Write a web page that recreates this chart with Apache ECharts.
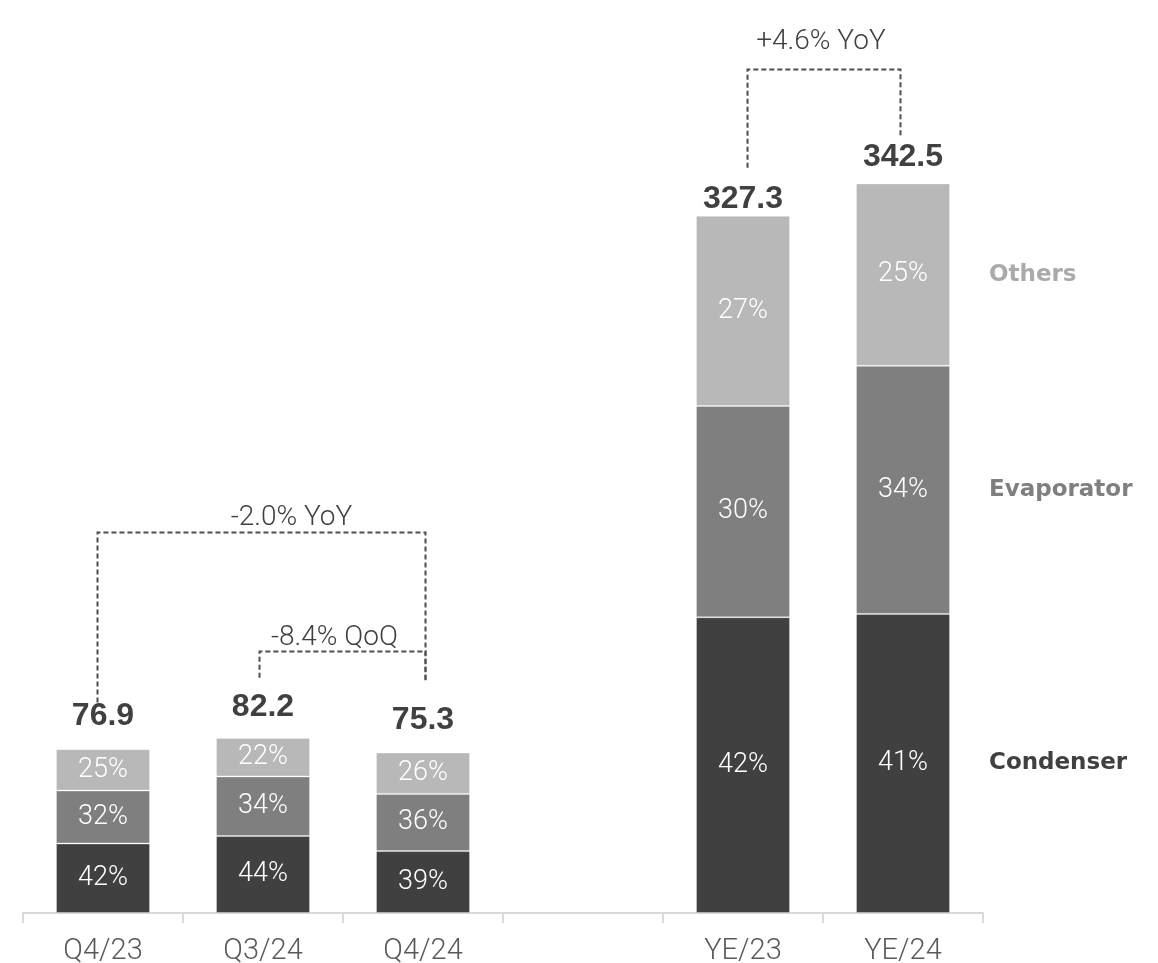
<!DOCTYPE html>
<html>
<head>
<meta charset="utf-8">
<title>Sales by product group</title>
<script src="https://cdn.jsdelivr.net/npm/echarts@6/dist/echarts.min.js"></script>
<style>
  html, body { margin: 0; padding: 0; background: #ffffff; }
  #chart { width: 1158px; height: 963px; }
</style>
</head>
<body>
<div id="chart"></div>
<script>
// Periods on the x axis; the empty slot separates quarters from full years
const categories = ['Q4/23', 'Q3/24', 'Q4/24', '', 'YE/23', 'YE/24'];
// Total sales per period
const totals = [76.9, 82.2, 75.3, null, 327.3, 342.5];
// Share of each product group in the period total (%)
const condenserPct = [42, 44, 39, null, 42, 41];
const evaporatorPct = [32, 34, 36, null, 30, 34];
const othersPct = [25, 22, 26, null, 27, 25];
// Group names shown beside the last bar
const groupNames = ['Condenser', 'Evaporator', 'Others'];
// Change annotations
const changeTexts = ['-2.0% YoY', '-8.4% QoQ', '+4.6% YoY'];

// Layout: extra lift (px) of each total label above its bar
const totalLabelLift = [16, 14, 15, 0, 0, 9];

const pctSeries = [condenserPct, evaporatorPct, othersPct];
const groupColors = ['#404040', '#7f7f7f', '#b8b8b8'];
const nameColors = ['#404040', '#7f7f7f', '#aaaaaa'];

// Segment heights: the period total split by the stated shares
function segmentValues(k) {
  return totals.map((t, i) => {
    if (t == null) return null;
    const sum = condenserPct[i] + evaporatorPct[i] + othersPct[i];
    return t * pctSeries[k][i] / sum;
  });
}
const segments = [0, 1, 2].map(segmentValues);

const lastIdx = categories.length - 1;
// Midpoint of each segment on the last bar, where the group names sit
const nameAnchors = [0, 1, 2].map(k => {
  let below = 0;
  for (let j = 0; j < k; j++) below += segments[j][lastIdx];
  return below + segments[k][lastIdx] / 2;
});

const LIGHT = 'Roboto';

const barSeries = [0, 1, 2].map(k => ({
  name: groupNames[k],
  type: 'bar',
  stack: 'sales',
  barWidth: 94,
  data: segments[k],
  itemStyle: {
    color: groupColors[k],
    borderColor: 'rgba(255,255,255,0.3)',
    borderWidth: 1
  },
  label: {
    show: true,
    position: 'inside',
    color: '#ffffff',
    fontFamily: LIGHT,
    fontWeight: 300,
    fontSize: 27,
    formatter: p => pctSeries[k][p.dataIndex] + '%'
  },
  silent: true
}));

const totalSeries = {
  type: 'scatter',
  data: totals.map((v, i) => v == null ? null : {
    value: v,
    label: { offset: [0, -totalLabelLift[i]] }
  }),
  symbolSize: 0,
  silent: true,
  itemStyle: { opacity: 1 },
  label: {
    show: true,
    position: 'top',
    distance: 1,
    color: '#404040',
    opacity: 1,
    fontFamily: 'Liberation Sans',
    fontWeight: 'bold',
    fontSize: 32,
    formatter: p => totals[p.dataIndex].toFixed(1)
  }
};

const nameSeries = {
  type: 'scatter',
  symbolSize: 0,
  silent: true,
  itemStyle: { opacity: 1 },
  data: nameAnchors.map((v, k) => ({
    value: [categories[lastIdx], v],
    label: { color: nameColors[k] }
  })),
  label: {
    show: true,
    position: 'right',
    distance: 86,
    align: 'left',
    opacity: 1,
    fontFamily: 'DejaVu Sans',
    fontWeight: 'bold',
    fontSize: 23,
    formatter: p => groupNames[p.dataIndex]
  }
};

const chart = echarts.init(document.getElementById('chart'), null, { renderer: 'canvas' });

chart.setOption({
  animation: false,
  backgroundColor: '#ffffff',
  grid: {
    left: 23, right: 175, top: 61, bottom: 50,
    containLabel: false,
    outerBoundsMode: 'none'
  },
  xAxis: {
    type: 'category',
    data: categories,
    boundaryGap: true,
    axisLine: { show: true, lineStyle: { color: '#d9d9d9', width: 2 } },
    axisTick: { show: true, length: 10, lineStyle: { color: '#d9d9d9', width: 2 } },
    axisLabel: {
      color: '#595959',
      fontFamily: LIGHT,
      fontWeight: 300,
      fontSize: 29,
      margin: 24,
      interval: 0
    },
    splitLine: { show: false }
  },
  yAxis: {
    type: 'value',
    min: 0,
    max: 400,
    show: false,
    splitLine: { show: false }
  },
  series: [...barSeries, totalSeries, nameSeries]
});

// Dashed change brackets: ends rest above the bars, bar in value units
const brackets = [
  { from: 'Q4/23', to: 'Q4/24', fromEnd: 98.8, toEnd: 108.6, level: 178.9,
    fromDx: -6, toDx: 2, textDx: 30, textDy: -15, text: changeTexts[0] },
  { from: 'Q3/24', to: 'Q4/24', fromEnd: 110.5, toEnd: 108.6, level: 123.2,
    fromDx: -4, toDx: 2, textDx: -8, textDy: -14, text: changeTexts[1] },
  { from: 'YE/23', to: 'YE/24', fromEnd: 349.9, toEnd: 363.9, level: 396.3,
    fromDx: 4, toDx: -3, textDx: -3, textDy: -28, text: changeTexts[2] }
];

function px(cat, v) {
  return chart.convertToPixel({ xAxisIndex: 0, yAxisIndex: 0 }, [cat, v]);
}

const graphics = [];
brackets.forEach(b => {
  const a0 = px(b.from, b.fromEnd);
  const a1 = px(b.from, b.level);
  const c1 = px(b.to, b.level);
  const c0 = px(b.to, b.toEnd);
  const xa = Math.round(a0[0] + b.fromDx) + 0.5;
  const xc = Math.round(c0[0] + b.toDx) + 0.5;
  const yl = Math.round(a1[1]) + 0.5;
  graphics.push({
    type: 'polyline',
    silent: true,
    shape: { points: [[xa, a0[1]], [xa, yl], [xc, yl], [xc, c0[1]]] },
    style: { stroke: '#4d4d4d', lineWidth: 2, lineDash: [5, 3], fill: null }
  });
  graphics.push({
    type: 'text',
    silent: true,
    x: (xa + xc) / 2 + b.textDx,
    y: yl + b.textDy,
    style: {
      text: b.text,
      align: 'center',
      verticalAlign: 'middle',
      fill: '#404040',
      fontFamily: LIGHT,
      fontWeight: 300,
      fontSize: 28
    }
  });
});

chart.setOption({ graphic: graphics });
</script>
</body>
</html>
